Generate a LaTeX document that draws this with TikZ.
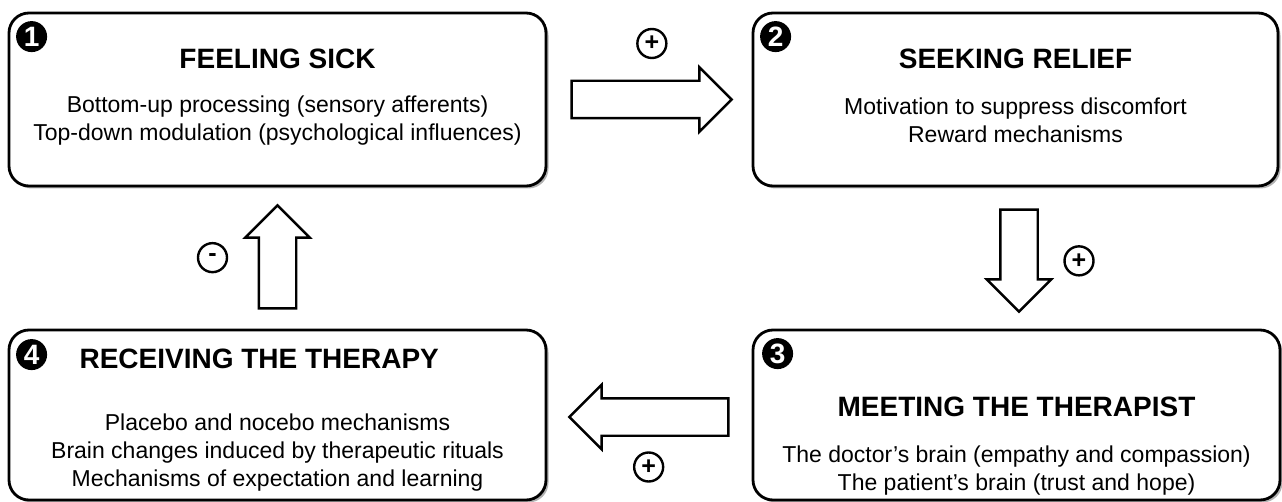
\documentclass[tikz,border=0pt]{standalone}
\usepackage{fontspec}
\setmainfont{Liberation Sans}
\usetikzlibrary{positioning,calc,shapes.arrows,shadows}

\begin{document}
\begin{tikzpicture}[x=1pt,y=-1pt,
    stage/.style={draw,line width=2.8pt,rounded corners=20pt,fill=white,
      drop shadow={shadow xshift=2.5pt,shadow yshift=-2.5pt,fill=black!30,opacity=1}},
    stagetitle/.style={font=\fontsize{28}{32}\selectfont\bfseries},
    stagetext/.style={align=center,font=\fontsize{23}{28}\selectfont},
    stagenum/.style={circle,fill=black,text=white,minimum size=31pt,inner sep=0pt,
      font=\fontsize{28}{28}\selectfont\bfseries},
    bigarrow/.style={draw,line width=2.4pt,fill=white,single arrow,minimum width=62pt,
      single arrow head extend=13.5pt,single arrow head indent=0pt,inner sep=17.5pt,anchor=tail},
    sign/.style={circle,draw,line width=2.4pt,minimum size=29pt,inner sep=0pt,
      font=\fontsize{25}{25}\selectfont\bfseries}]
  \useasboundingbox (0,0) rectangle (1282,502);

  % stage boxes
  \node[stage,minimum width=537pt,minimum height=173pt] (sick) at (277.5,99.5) {};
  \node[stage,minimum width=525pt,minimum height=173pt] (relief) at (1015.5,99.5) {};
  \node[stage,minimum width=527pt,minimum height=170pt] (therapist) at (1016.5,415) {};
  \node[stage,minimum width=537pt,minimum height=170pt] (therapy) at (277.5,415) {};

  % numbers
  \node[stagenum] (n1) at ($(sick.north west)+(24,25)$) {1};
  \node[stagenum] (n2) at ($(relief.north west)+(24,25)$) {2};
  \node[stagenum] (n3) at ($(therapist.north west)+(26,25)$) {3};
  \node[stagenum] (n4) at ($(therapy.north west)+(24,26)$) {4};

  % titles and texts
  \node[stagetitle] (t1) at ($(sick.north)+(0,47)$) {FEELING SICK};
  \node[stagetext] (d1) at ($(sick.north)+(0,109)$)
    {Bottom-up processing (sensory afferents)\\Top-down modulation (psychological influences)};
  \node[stagetitle] (t2) at ($(relief.north)+(0,47)$) {SEEKING RELIEF};
  \node[stagetext] (d2) at ($(relief.north)+(0,109)$)
    {Motivation to suppress discomfort\\Reward mechanisms};
  \node[stagetitle] (t3) at ($(therapist.north)+(0,78)$) {MEETING THE THERAPIST};
  \node[stagetext] (d3) at ($(therapist.north)+(0,142)$)
    {The doctor's brain (empathy and compassion)\\The patient's brain (trust and hope)};
  \node[stagetitle,anchor=west] (t4) at (76,359) {RECEIVING THE THERAPY};
  \node[stagetext] (d4) at ($(therapy.north)+(0,124)$)
    {Placebo and nocebo mechanisms\\Brain changes induced by therapeutic rituals\\Mechanisms of expectation and learning};

  % block arrows between the stages
  \node[bigarrow,minimum height=160pt] (a12) at ($(sick.east)+(23,0)$) {};
  \node[bigarrow,minimum height=102pt,shape border rotate=270] (a23) at ($(relief.south)+(3.5,21)$) {};
  \node[bigarrow,minimum height=159pt,shape border rotate=180] (a34) at ($(therapist.west)+(-22,2)$) {};
  \node[bigarrow,minimum height=103pt,shape border rotate=90] (a41) at ($(therapy.north)+(0,-19)$) {};

  % signs
  \node[sign] (s12) at ($($(a12.tail)!0.5!(a12.tip)$)+(0,-56)$) {+};
  \node[sign] (s23) at ($($(a23.tail)!0.5!(a23.tip)$)+(60,0)$) {+};
  \node[sign] (s34) at ($($(a34.tail)!0.5!(a34.tip)$)+(0,50)$) {+};
  \node[sign] (s41) at ($($(a41.tail)!0.5!(a41.tip)$)+(-65,1)$) {-};
\end{tikzpicture}
\end{document}
